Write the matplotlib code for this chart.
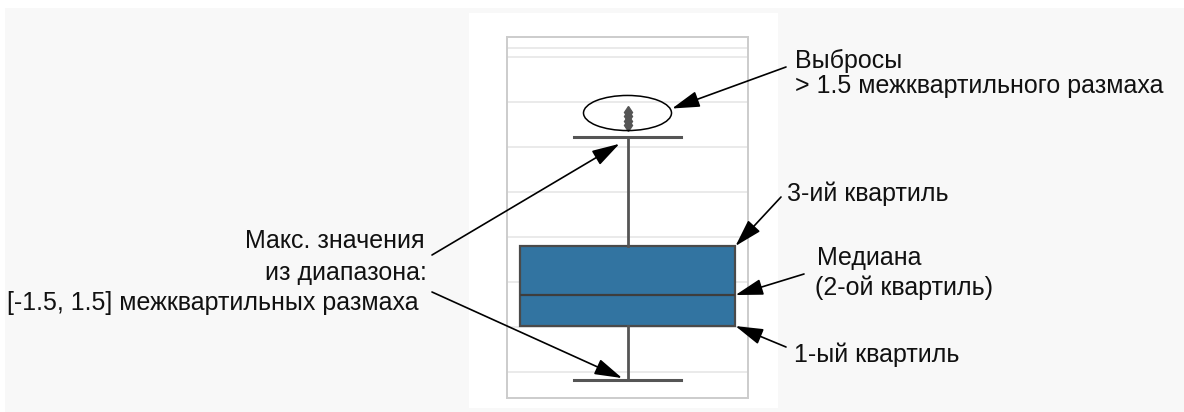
import matplotlib.pyplot as plt
from matplotlib.patches import Rectangle, Ellipse

plt.rcParams['font.family'] = ['Liberation Sans', 'DejaVu Sans']

# box statistics (arbitrary units, grid step = 1)
q1 = 2.02
median = 2.71
q3 = 3.80
whisker_low = 0.82
whisker_high = 6.22
outliers = [6.48, 6.58, 6.68, 6.78]
grid_levels = [1, 2, 3, 4, 5, 6, 7, 8, 8.2]

W, H = 1184, 412


def fx(px):
    return px / W


def fy(py):
    return 1 - py / H


fig = plt.figure(figsize=(W / 100, H / 100), dpi=100)
fig.patch.set_facecolor('white')

# screenshot backgrounds
fig.patches.append(Rectangle((fx(5), 0), 1, fy(8), transform=fig.transFigure,
                             facecolor='#f8f8f8', edgecolor='none', zorder=-10))
fig.patches.append(Rectangle((fx(469), fy(408)), fx(778) - fx(469), fy(13) - fy(408),
                             transform=fig.transFigure, facecolor='white',
                             edgecolor='none', zorder=-9))

ax = fig.add_axes([fx(507), fy(398), fx(748) - fx(507), fy(37) - fy(398)])
ax.set_facecolor('white')

stats = [{'q1': q1, 'med': median, 'q3': q3, 'whislo': whisker_low,
          'whishi': whisker_high, 'fliers': outliers}]
line_col = '#555555'
ax.bxp(stats, positions=[0], widths=0.8, capwidths=0.4, patch_artist=True,
       boxprops=dict(facecolor='#3274a1', edgecolor='#4a4a4a', linewidth=1.6),
       medianprops=dict(color='#3d3d3d', linewidth=1.6),
       whiskerprops=dict(color=line_col, linewidth=2),
       capprops=dict(color=line_col, linewidth=2.2),
       flierprops=dict(marker='d', markersize=6, markerfacecolor=line_col,
                       markeredgecolor=line_col))

ax.set_xlim(-0.4463, 0.4463)
ax.set_ylim(0.422, 8.444)
ax.set_yticks(grid_levels)
ax.set_xticks([])
ax.tick_params(left=False, labelleft=False)
ax.grid(axis='y', color='#e6e6e6', linewidth=1.2)
ax.set_axisbelow(True)
for s in ax.spines.values():
    s.set_color('#cccccc')
    s.set_linewidth(1.4)

# ellipse round the outliers
ell_y = sum(outliers) / len(outliers) + 0.125
ax.add_patch(Ellipse((0, ell_y), 0.326, 0.78, facecolor='none',
                     edgecolor='black', linewidth=1.1, zorder=5))

fs = 18
txt = dict(fontsize=fs, color='#111111')

# right-side labels
fig.text(fx(795), fy(68), 'Выбросы', ha='left', va='baseline', **txt)
fig.text(fx(795), fy(93), '> 1.5 межквартильного размаха', ha='left', va='baseline', **txt)
fig.text(fx(787), fy(201), '3-ий квартиль', ha='left', va='baseline', **txt)
fig.text(fx(817), fy(265), 'Медиана', ha='left', va='baseline', **txt)
fig.text(fx(815), fy(295), '(2-ой квартиль)', ha='left', va='baseline', **txt)
fig.text(fx(794), fy(362), '1-ый квартиль', ha='left', va='baseline', **txt)

# left-side label
fig.text(fx(425), fy(248), 'Макс. значения', ha='right', va='baseline', **txt)
fig.text(fx(427), fy(280), 'из диапазона:', ha='right', va='baseline', **txt)
fig.text(fx(419), fy(310), '[-1.5, 1.5] межквартильных размаха', ha='right', va='baseline', **txt)

arrow = dict(arrowstyle='-|>,head_length=0.85,head_width=0.25', color='black',
             linewidth=1.2, mutation_scale=20, shrinkA=0, shrinkB=0)

ax.annotate('', xy=(0.165, ell_y + 0.1), xycoords='data',
            xytext=(fx(786), fy(67)), textcoords='figure fraction', arrowprops=arrow)
ax.annotate('', xy=(-0.03, whisker_high - 0.15), xycoords='data',
            xytext=(fx(432), fy(255)), textcoords='figure fraction', arrowprops=arrow)
ax.annotate('', xy=(-0.02, whisker_low + 0.045), xycoords='data',
            xytext=(fx(432), fy(292)), textcoords='figure fraction', arrowprops=arrow)
ax.annotate('', xy=(0.4, q3), xycoords='data', annotation_clip=False,
            xytext=(fx(781), fy(197)), textcoords='figure fraction', arrowprops=arrow)
ax.annotate('', xy=(0.4, median), xycoords='data', annotation_clip=False,
            xytext=(fx(804), fy(274)), textcoords='figure fraction', arrowprops=arrow)
ax.annotate('', xy=(0.4, q1), xycoords='data', annotation_clip=False,
            xytext=(fx(786), fy(347)), textcoords='figure fraction', arrowprops=arrow)

fig.savefig('out.png', dpi=100, facecolor=fig.get_facecolor())
